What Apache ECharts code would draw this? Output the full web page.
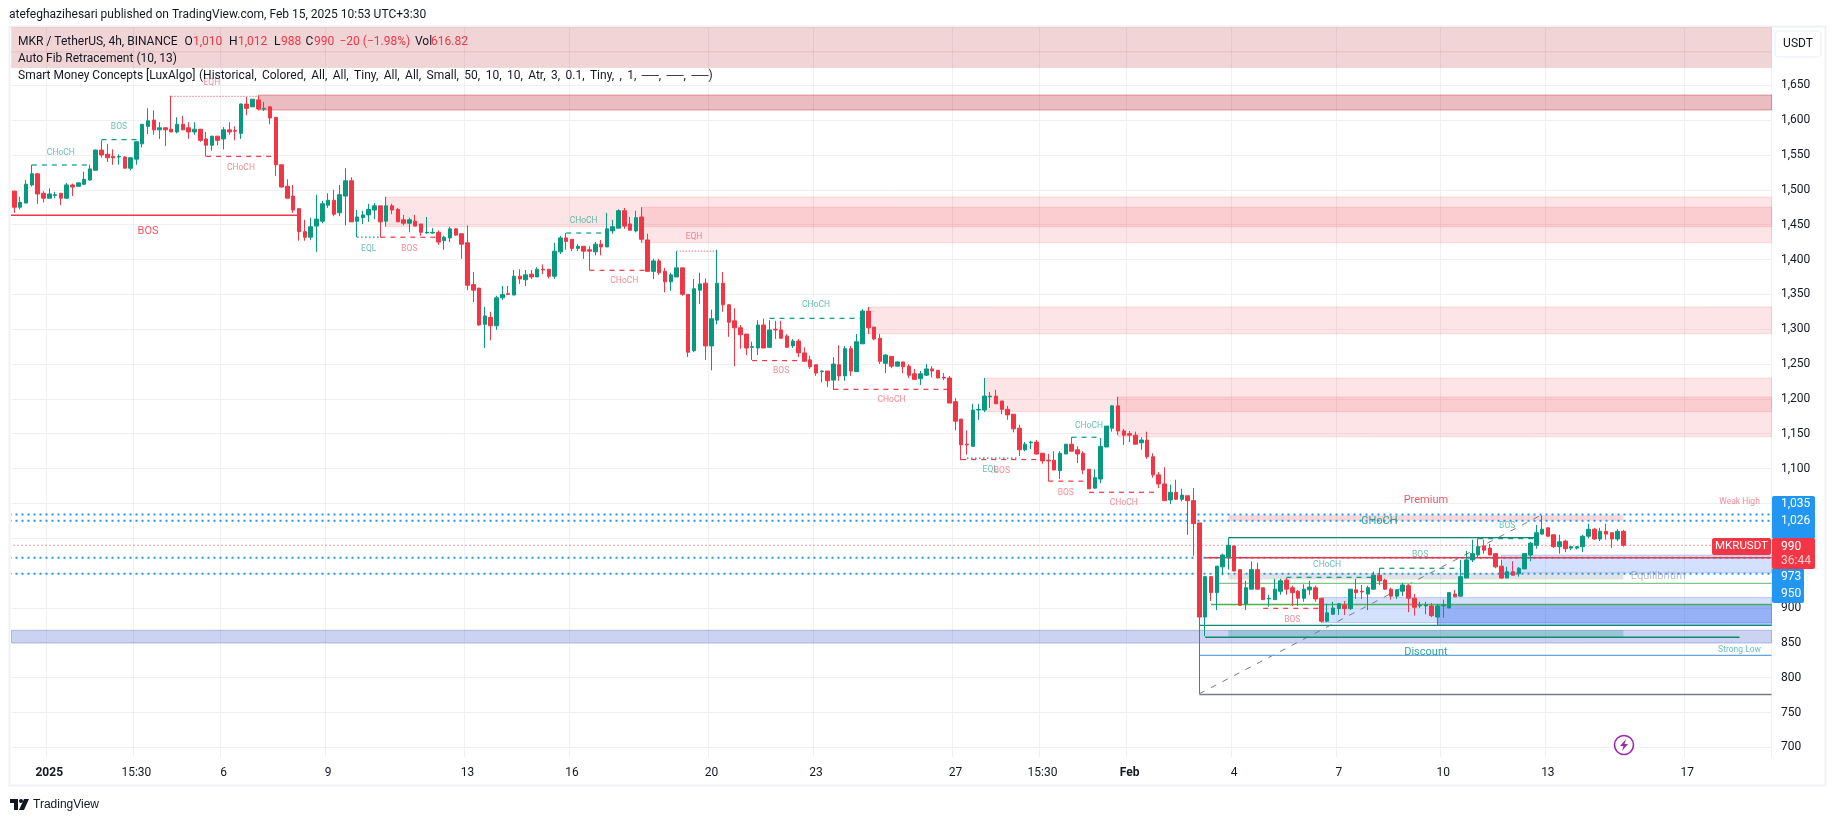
<!DOCTYPE html>
<html>
<head>
<meta charset="utf-8">
<title>MKRUSDT</title>
<script src="https://cdn.jsdelivr.net/npm/echarts@6/dist/echarts.min.js"></script>
<style>
  html, body { margin: 0; padding: 0; background: #fff; }
  #chart { width: 1835px; height: 821px; }
</style>
</head>
<body>
<div id="chart"></div>
<script>
// bar slots on the time axis, the last ones stay empty like the chart's right margin
const slotCount = 303;
const tickIndex = [6, 21, 36, 54, 78, 96, 120, 138, 162, 177, 192, 210, 228, 246, 264, 288];
const tickText = ['2025', '15:30', '6', '9', '13', '16', '20', '23', '27', '15:30', 'Feb', '4', '7', '10', '13', '17'];
const priceTicks = [700, 750, 800, 850, 900, 950, 1000, 1050, 1100, 1150, 1200, 1250, 1300, 1350, 1400, 1450, 1500, 1550, 1600, 1650];

// open, close, low, high
const candles = [
  [1498,1475,1467,1499],[1475,1482,1472,1490],[1481,1508,1481,1514],[1507,1523,1505,1536],[1523,1494,1480,1523],
  [1495,1488,1482,1498],[1488,1494,1488,1502],[1492,1493,1488,1497],[1495,1488,1478,1495],[1488,1507,1487,1510],
  [1507,1504,1491,1509],[1505,1510,1505,1510],[1508,1515,1507,1526],[1514,1530,1513,1536],[1528,1557,1528,1558],
  [1557,1550,1546,1571],[1551,1546,1540,1566],[1548,1546,1536,1558],[1547,1548,1536,1551],[1547,1531,1531,1548],
  [1531,1546,1528,1547],[1544,1569,1536,1570],[1566,1594,1561,1594],[1591,1599,1580,1617],[1600,1586,1579,1614],
  [1586,1589,1573,1597],[1589,1586,1563,1590],[1587,1583,1583,1635],[1583,1594,1581,1604],[1594,1586,1586,1606],
  [1589,1583,1573,1597],[1583,1587,1579,1597],[1587,1571,1569,1587],[1573,1564,1548,1583],[1564,1577,1556,1577],
  [1577,1571,1564,1577],[1573,1586,1558,1590],[1586,1583,1579,1597],[1585,1584,1571,1591],[1581,1623,1573,1624],
  [1623,1617,1607,1633],[1619,1630,1619,1630],[1629,1616,1614,1635],[1616,1617,1613,1626],[1619,1603,1594,1620],
  [1604,1536,1520,1604],[1536,1504,1503,1536],[1505,1488,1488,1515],[1491,1471,1467,1507],[1473,1440,1427,1473],
  [1440,1432,1427,1457],[1432,1447,1428,1460],[1448,1458,1411,1493],[1455,1480,1452,1484],[1478,1485,1474,1495],
  [1485,1465,1462,1500],[1467,1493,1462,1507],[1491,1513,1449,1531],[1513,1454,1454,1518],[1455,1461,1432,1471],
  [1460,1464,1451,1470],[1464,1472,1454,1480],[1471,1477,1458,1481],[1477,1454,1432,1477],[1455,1477,1447,1490],
  [1477,1471,1465,1480],[1472,1454,1454,1474],[1457,1452,1449,1464],[1452,1457,1439,1460],[1455,1448,1448,1464],
  [1451,1439,1434,1451],[1438,1439,1437,1461],[1438,1439,1437,1445],[1439,1425,1421,1442],[1427,1432,1414,1434],
  [1431,1444,1425,1447],[1444,1435,1434,1445],[1437,1422,1401,1437],[1424,1363,1356,1449],[1364,1356,1339,1382],
  [1359,1306,1305,1359],[1307,1319,1273,1332],[1317,1305,1284,1325],[1305,1345,1299,1348],[1345,1350,1342,1362],
  [1351,1350,1350,1362],[1349,1376,1349,1385],[1376,1372,1365,1386],[1371,1378,1362,1385],[1379,1375,1372,1385],
  [1375,1386,1375,1389],[1386,1385,1379,1393],[1386,1376,1373,1386],[1376,1412,1372,1424],[1411,1431,1408,1434],
  [1431,1426,1414,1438],[1429,1416,1412,1429],[1416,1419,1412,1422],[1419,1412,1401,1419],[1414,1412,1385,1419],
  [1411,1422,1406,1425],[1422,1418,1406,1428],[1418,1444,1418,1467],[1441,1447,1437,1457],[1445,1470,1445,1472],
  [1470,1448,1444,1474],[1451,1442,1442,1461],[1441,1460,1439,1470],[1461,1429,1424,1475],[1428,1383,1383,1437],
  [1383,1398,1372,1401],[1398,1381,1378,1401],[1383,1368,1353,1388],[1368,1378,1355,1381],[1375,1388,1375,1412],
  [1388,1350,1348,1388],[1350,1267,1260,1350],[1269,1358,1267,1372],[1356,1365,1336,1381],[1366,1276,1256,1373],
  [1276,1315,1241,1328],[1313,1366,1307,1414],[1366,1335,1325,1382],[1335,1310,1289,1336],[1312,1302,1247,1330],
  [1302,1292,1272,1306],[1293,1273,1263,1293],[1274,1275,1256,1282],[1273,1306,1263,1313],[1306,1273,1273,1315],
  [1274,1299,1273,1313],[1300,1299,1286,1312],[1299,1287,1287,1312],[1290,1274,1273,1293],[1276,1283,1273,1286],
  [1283,1266,1260,1286],[1266,1254,1254,1274],[1256,1246,1243,1262],[1249,1237,1233,1249],[1239,1240,1224,1241],
  [1240,1226,1217,1240],[1227,1250,1213,1260],[1249,1233,1226,1277],[1233,1272,1226,1276],[1272,1240,1233,1276],
  [1239,1282,1239,1293],[1279,1326,1279,1329],[1326,1302,1293,1332],[1303,1286,1284,1303],[1287,1254,1250,1293],
  [1251,1263,1237,1264],[1261,1247,1244,1261],[1247,1253,1247,1254],[1253,1246,1237,1253],[1247,1234,1230,1250],
  [1236,1228,1228,1243],[1229,1236,1220,1240],[1234,1243,1233,1250],[1243,1240,1231,1247],[1241,1230,1230,1241],
  [1231,1230,1227,1237],[1230,1194,1194,1233],[1196,1168,1155,1201],[1171,1134,1112,1171],[1135,1134,1120,1155],
  [1132,1184,1131,1193],[1184,1185,1170,1193],[1184,1204,1181,1230],[1203,1204,1187,1210],[1204,1193,1193,1213],
  [1197,1185,1178,1197],[1185,1177,1170,1190],[1178,1157,1152,1178],[1158,1127,1118,1163],[1127,1135,1125,1138],
  [1137,1138,1128,1140],[1138,1121,1120,1141],[1122,1111,1107,1122],[1112,1111,1082,1121],[1112,1098,1098,1125],
  [1097,1122,1085,1125],[1121,1135,1121,1135],[1135,1125,1125,1145],[1127,1121,1108,1132],[1122,1098,1092,1125],
  [1099,1071,1071,1099],[1072,1087,1071,1099],[1085,1132,1079,1144],[1131,1161,1131,1161],[1158,1190,1153,1191],
  [1190,1154,1148,1203],[1154,1148,1134,1157],[1150,1148,1138,1154],[1148,1135,1135,1153],[1137,1141,1127,1145],
  [1141,1117,1114,1153],[1117,1091,1087,1122],[1091,1078,1072,1095],[1078,1054,1054,1102],[1055,1066,1049,1077],
  [1066,1056,1055,1084],[1056,1062,1053,1071],[1061,1054,1005,1061],[1054,1021,975,1072],[1022,887,777,1022],
  [887,945,860,946],[945,922,910,945],[922,960,897,960],[959,976,947,978],[973,990,955,1001],
  [989,953,953,990],[955,904,903,955],[906,929,897,939],[927,955,927,967],[955,927,927,965],
  [929,912,912,929],[913,914,902,919],[912,927,912,942],[924,939,919,942],[940,927,919,943],
  [929,922,903,932],[924,914,903,926],[914,927,909,934],[926,930,919,939],[929,913,909,932],
  [914,881,879,914],[881,893,880,906],[891,900,890,909],[899,906,890,907],[904,899,890,910],
  [899,927,897,927],[926,922,913,942],[924,923,913,933],[920,929,897,932],[927,947,926,952],
  [947,939,933,957],[940,927,926,942],[927,917,912,929],[917,926,913,927],[924,933,917,936],
  [932,914,894,933],[914,901,889,920],[903,904,900,909],[903,904,891,909],[903,889,887,907],
  [887,903,876,906],[903,904,886,912],[900,922,900,922],[920,916,916,926],[917,945,916,969],
  [943,969,943,982],[969,978,966,998],[976,988,972,1000],[989,983,978,998],[986,976,976,992],
  [978,959,957,978],[960,943,942,969],[943,952,943,959],[952,947,947,967],[949,957,945,959],
  [956,978,956,978],[976,993,967,995],[990,1008,985,1019],[1006,1013,1005,1033],[1015,1003,1002,1016],
  [1005,988,986,1005],[988,995,978,1005],[996,985,980,998],[986,988,983,989],[986,988,984,989],
  [988,1003,980,1005],[1003,1013,1000,1021],[1013,999,998,1015],[999,1010,996,1015],[1010,1006,998,1021],
  [1008,999,986,1008],[999,1010,996,1013],[1010,990,988,1012]
];

// zones: first bar, last bar (99999 runs to the right edge, -99 from the left edge), top, bottom
const headerZones = [[-99, 99999, 1740, 1698], [-99, 99999, 1698, 1675]];
const supplyZone = [[42, 99999, 1636, 1614.5]];
const pinkZones = [
  [64, 99999, 1489.7, 1447], [108, 99999, 1475, 1424], [147, 99999, 1332, 1293.5],
  [167, 99999, 1230, 1181.6], [190, 99999, 1202.7, 1145.7]
];
const indigoZone = [[-99, 99999, 868, 850]];
const blueZones = [[225, 99999, 915, 879], [256, 99999, 976, 951]];
const deepBlueZone = [[245, 99999, 905, 875]];
const premiumZone = [[209, 277, 1033, 1025]];
const equilibriumZone = [[209, 277, 950, 941]];
const discountZone = [[209, 277, 868, 858]];

// lines: first bar, last bar, price (a second price makes it slanted)
const redSolid = [[-99, 49, 1463.6], [205, 99999, 972]];
const tealDashed = [[3, 13, 1535.6], [15, 22, 1572], [95, 102, 1438], [130, 146, 1315.6], [182, 187, 1145], [219, 234, 944], [235, 249, 957], [252, 262, 999.5]];
const redDashed = [[33, 45, 1548], [63, 73, 1432], [99, 109, 1384.5], [127, 136, 1255], [141, 161, 1213.7], [163, 177, 1113], [178, 185, 1082], [185, 197, 1066], [215, 225, 899.5]];
const pinkDotted = [[27, 42, 1634], [114, 121, 1412]];
const tealDotted = [[59, 63, 1432], [164, 173, 1115]];
const tealSolid = [[209, 262, 1001], [204, 99999, 875], [205, 297, 858]];
const greenSolid = [[206, 99999, 905]];
const paleGreenSolid = [[207, 99999, 935.4]];
const strongLowLine = [[204, 99999, 832]];
const fibBaseLine = [[204, 99999, 776]];
const fibTrend = [[204, 263, 777, 1034]];
const levelDots = [[-99, 99999, 1034], [-99, 99999, 1025], [-99, 99999, 972], [-99, 99999, 949]];
const lastPriceLine = [[-99, 99999, 990]];

// text marks: bar, price, text
const tealTiny = [[7.8, 1552.8, 'CHoCH'], [17.8, 1590, 'BOS'], [61, 1415, 'EQL'], [97.9, 1455.7, 'CHoCH'], [138, 1335, 'CHoCH'], [168, 1098, 'EQL'], [185, 1161.5, 'CHoCH'], [226, 962, 'CHoCH'], [257, 1018, 'BOS'], [242, 976, 'BOS'], [297, 840, 'Strong Low']];
const redTiny = [[34, 1653, 'EQH'], [39, 1531, 'CHoCH'], [68, 1415, 'BOS'], [105, 1369, 'CHoCH'], [117, 1432, 'EQH'], [132, 1240, 'BOS'], [151, 1198, 'CHoCH'], [170, 1096.6, 'BOS'], [181, 1065, 'BOS'], [191, 1050.6, 'CHoCH'], [220, 883, 'BOS'], [297, 1052, 'Weak High']];
const redLarge = [[22.8, 1441, 'BOS'], [243, 1055, 'Premium']];
const tealLarge = [[235, 1024, 'CHoCH'], [243, 837, 'Discount']];
const greyLarge = [[283, 946, 'Equilibrium']];

const UP = '#089981';
const DOWN = '#f23645';
const INK = '#131722';
const FONT = 'Roboto, "Noto Sans", sans-serif';

const chart = echarts.init(document.getElementById('chart'));

const categories = Array.from({ length: slotCount }, (_, i) => {
  const at = tickIndex.indexOf(i);
  return at >= 0 ? tickText[at] : String(i);
});

const zoneSeries = (data, fill, border, z) => ({
  type: 'custom',
  coordinateSystem: 'cartesian2d',
  silent: true,
  clip: true,
  z: z,
  data: data,
  renderItem: (params, api) => {
    const box = params.coordSys;
    const a = api.coord([Math.max(api.value(0), 0), api.value(2)]);
    const b = api.coord([Math.min(api.value(1), slotCount - 1), api.value(3)]);
    const x0 = api.value(0) < 0 ? box.x : a[0];
    const x1 = api.value(1) >= slotCount ? box.x + box.width : b[0];
    return {
      type: 'rect',
      shape: { x: x0, y: a[1], width: x1 - x0, height: b[1] - a[1] },
      style: { fill: fill, stroke: border, lineWidth: 1 }
    };
  }
});

const lineSeries = (data, color, width, dash, z) => ({
  type: 'custom',
  coordinateSystem: 'cartesian2d',
  silent: true,
  clip: true,
  z: z || 3,
  data: data,
  renderItem: (params, api) => {
    const box = params.coordSys;
    const row = data[params.dataIndex];
    const p2 = row.length > 3 ? row[3] : row[2];
    const a = api.coord([Math.max(row[0], 0), row[2]]);
    const b = api.coord([Math.min(row[1], slotCount - 1), p2]);
    return {
      type: 'line',
      shape: {
        x1: row[0] < 0 ? box.x - 2 : a[0],
        y1: a[1],
        x2: row[1] >= slotCount ? box.x + box.width : b[0],
        y2: b[1]
      },
      style: { stroke: color, lineWidth: width, lineDash: dash || null }
    };
  }
});

const textSeries = (data, color, size) => ({
  type: 'custom',
  coordinateSystem: 'cartesian2d',
  silent: true,
  clip: false,
  z: 6,
  data: data.map((d) => [d[0], d[1]]),
  renderItem: (params, api) => {
    const p = api.coord([api.value(0), api.value(1)]);
    return {
      type: 'text',
      x: p[0],
      y: p[1],
      style: {
        text: data[params.dataIndex][2],
        fill: color,
        font: size + 'px ' + FONT,
        textAlign: 'center',
        textVerticalAlign: 'middle'
      }
    };
  }
});

const label = (x, y, text, fill, size, extra) => ({
  type: 'text',
  x: x,
  y: y,
  z: 30,
  silent: true,
  style: Object.assign({
    text: text,
    fill: fill || INK,
    font: (size || 12) + 'px ' + FONT,
    textVerticalAlign: 'middle'
  }, extra || {})
});

const tag = (x, y, w, h, fill) => ({
  type: 'rect',
  z: 20,
  silent: true,
  shape: { x: x, y: y, width: w, height: h, r: 2 },
  style: { fill: fill }
});

const centered = { textAlign: 'center' };
const thin = '\u2009';

const option = {
  animation: false,
  backgroundColor: '#fff',
  grid: { left: 11.5, top: 27, width: 1760, height: 730 },
  xAxis: {
    type: 'category',
    data: categories,
    boundaryGap: true,
    axisLine: { show: false },
    axisTick: { show: false },
    splitLine: {
      show: true,
      interval: (i) => tickIndex.includes(i),
      lineStyle: { color: '#eff0f3', width: 1 }
    },
    axisLabel: {
      interval: (i) => tickIndex.includes(i),
      margin: 10,
      fontFamily: FONT,
      fontSize: 12,
      color: INK,
      fontWeight: 400,
      formatter: (v) => (v === '2025' || v === 'Feb' ? '{b|' + v + '}' : v),
      rich: { b: { fontFamily: FONT, fontSize: 12, fontWeight: 700, color: INK } }
    }
  },
  yAxis: {
    type: 'value',
    position: 'right',
    min: 686.2,
    max: 1733.6,
    axisLine: { show: false },
    axisTick: { show: false, customValues: priceTicks },
    splitLine: { show: true, lineStyle: { color: '#eff0f3', width: 1 } },
    axisLabel: {
      customValues: priceTicks,
      margin: 9.5,
      padding: [2, 0, 0, 0],
      fontFamily: FONT,
      fontSize: 12,
      color: INK,
      formatter: (v) => Number(v).toLocaleString('en-US')
    }
  },
  series: [
    zoneSeries(headerZones, 'rgba(178,40,51,0.2)', 'rgba(178,40,51,0.06)', 1),
    zoneSeries(supplyZone, 'rgba(190,35,50,0.3)', 'rgba(190,35,50,0.4)', 1),
    zoneSeries(pinkZones, 'rgba(242,54,69,0.135)', 'rgba(242,54,69,0.14)', 1),
    zoneSeries(indigoZone, 'rgba(48,80,200,0.25)', 'rgba(48,80,200,0.3)', 1),
    zoneSeries(blueZones, 'rgba(41,98,255,0.2)', 'rgba(41,98,255,0.25)', 1),
    zoneSeries(deepBlueZone, 'rgba(33,90,230,0.35)', 'rgba(33,90,230,0.35)', 1),
    zoneSeries(premiumZone, 'rgba(242,54,69,0.2)', 'transparent', 1),
    zoneSeries(equilibriumZone, 'rgba(120,123,134,0.22)', 'transparent', 1),
    zoneSeries(discountZone, 'rgba(8,153,129,0.25)', 'transparent', 1),
    lineSeries(lastPriceLine, DOWN, 1, [1, 3], 2),
    lineSeries(levelDots, '#2196f3', 2, [2, 4], 2),
    lineSeries(fibTrend, '#787b86', 1, [6, 7], 2),
    lineSeries(fibBaseLine, '#787b86', 1.5),
    lineSeries(strongLowLine, '#64a5de', 1.2),
    lineSeries(paleGreenSolid, '#81c784', 1.2),
    lineSeries(greenSolid, '#4caf50', 1.4),
    lineSeries(tealSolid, '#0e8a72', 1.4),
    lineSeries(redSolid, DOWN, 1.4),
    lineSeries(tealDashed, UP, 1.2, [5, 5]),
    lineSeries(redDashed, DOWN, 1.2, [5, 5]),
    lineSeries(pinkDotted, '#f88f98', 1.4, [1.5, 1.5]),
    lineSeries(tealDotted, UP, 1.2, [1.5, 2.5]),
    {
      type: 'candlestick',
      data: candles,
      z: 5,
      barWidth: 4,
      silent: true,
      itemStyle: { color: UP, color0: DOWN, borderColor: UP, borderColor0: DOWN, borderWidth: 1 }
    },
    textSeries(tealTiny, 'rgba(8,153,129,0.62)', 8.5),
    textSeries(redTiny, 'rgba(242,54,69,0.58)', 8.5),
    textSeries(redLarge, 'rgba(242,54,69,0.85)', 11),
    textSeries(tealLarge, 'rgba(8,153,129,0.85)', 11),
    textSeries(greyLarge, 'rgba(120,123,134,0.5)', 11)
  ],
  graphic: {
    elements: [
      {
        type: 'rect', z: 0, silent: true,
        shape: { x: 9.5, y: 26.5, width: 1816, height: 759 },
        style: { fill: 'none', stroke: '#f0f1f4', lineWidth: 2 }
      },
      label(9, 15, 'atefeghazihesari published on TradingView.com, Feb 15, 2025 10:53 UTC+3:30'),

      label(18, 42, 'MKR / TetherUS, 4h, BINANCE'),
      label(184.5, 42, 'O'), label(193, 42, '1,010', DOWN),
      label(229, 42, 'H'), label(238, 42, '1,012', DOWN),
      label(274, 42, 'L'), label(281, 42, '988', DOWN),
      label(305.5, 42, 'C'), label(314, 42, '990', DOWN),
      label(339.5, 42, '\u221220 (\u22121.98%)', DOWN),
      label(415, 42, 'Vol'), label(431, 42, '616.82', DOWN),
      label(18, 59, 'Auto Fib Retracement (10, 13)'),
      label(18, 76, 'Smart Money Concepts [LuxAlgo]'),
      label(199, 76, '(Historical, Colored, All, All, Tiny, All, All, Small, 50, 10, 10, Atr, 3, 0.1, Tiny, , 1, \u2500\u2500, \u2500\u2500, \u2500\u2500)'.replace(/, /g, ',' + thin + ' ')),

      {
        type: 'rect', z: 20, silent: true,
        shape: { x: 1775, y: 31, width: 46, height: 26, r: 4 },
        style: { fill: '#fff', stroke: '#f0f3fa', lineWidth: 1.5 }
      },
      label(1798, 44, 'USDT', INK, 12, centered),

      tag(1772, 496, 43, 43, '#2196f3'),
      label(1781, 503.5, '1,035', '#fff'),
      label(1781, 520.5, '1,026', '#fff'),
      tag(1772, 568, 32, 35, '#2196f3'),
      label(1781, 577, '973', '#fff'),
      label(1781, 594, '950', '#fff'),
      tag(1712, 538, 59, 17, DOWN),
      label(1741.5, 546.5, 'MKRUSDT', '#fff', 11.5, centered),
      tag(1772, 538, 43, 31, DOWN),
      label(1781, 547, '990', '#fff'),
      label(1781, 560.5, '36:44', 'rgba(255,255,255,0.75)'),

      // the purple news badge
      {
        type: 'circle', z: 20, silent: true,
        shape: { cx: 1624, cy: 745, r: 9.5 },
        style: { fill: '#fff', stroke: '#9c27b0', lineWidth: 1.6 }
      },
      {
        type: 'polygon', z: 21, silent: true,
        shape: { points: [[1626, 739], [1620, 746], [1623.5, 746], [1622, 751], [1628, 744], [1624.5, 744]] },
        style: { fill: '#9c27b0' }
      },

      // TradingView mark, bottom left
      {
        type: 'polygon', z: 20, silent: true,
        shape: { points: [[10, 799], [18, 799], [18, 810], [14, 810], [14, 803], [10, 803]] },
        style: { fill: INK }
      },
      { type: 'circle', z: 20, silent: true, shape: { cx: 21, cy: 801, r: 2 }, style: { fill: INK } },
      {
        type: 'polygon', z: 20, silent: true,
        shape: { points: [[24, 799], [29, 799], [24, 810], [19, 810]] },
        style: { fill: INK }
      },
      label(33, 804.5, 'TradingView', INK, 14, { fontWeight: 500 })
    ]
  }
};

chart.setOption(option);
</script>
</body>
</html>
